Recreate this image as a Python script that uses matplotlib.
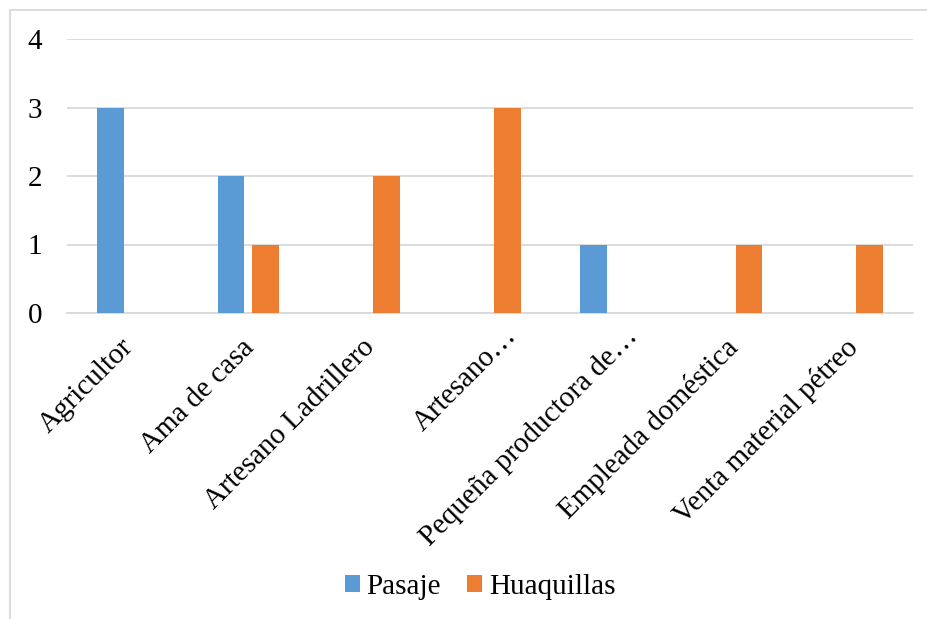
import matplotlib
matplotlib.use("Agg")
import matplotlib.pyplot as plt
import numpy as np
from matplotlib.patches import Rectangle
from matplotlib.transforms import ScaledTranslation

categories = ["Agricultor", "Ama de casa", "Artesano Ladrillero", "Artesano…",
              "Pequeña productora de…", "Empleada doméstica", "Venta material pétreo"]
pasaje = [3, 2, 0, 0, 1, 0, 0]
huaquillas = [0, 1, 2, 3, 0, 1, 1]
yticks = [0, 1, 2, 3, 4]

plt.rcParams['font.family'] = ['Liberation Serif', 'DejaVu Serif']

W, H = 928, 619
fig = plt.figure(figsize=(W / 100, H / 100), dpi=100)
ax = fig.add_axes([67 / W, 1 - 313 / H, (913 - 67) / W, (313 - 39) / H])

x = np.arange(len(categories))
bw = 0.223
off = 0.143
blue = "#5B9BD5"
orange = "#ED7D31"
ax.bar(x - off, pasaje, bw, color=blue, label="Pasaje", zorder=3)
ax.bar(x + off, huaquillas, bw, color=orange, label="Huaquillas", zorder=3)

ax.set_xlim(-0.5, len(categories) - 0.5)
ax.set_ylim(0, 4)
ax.set_yticks(yticks)
ax.yaxis.grid(True, color="#D9D9D9", lw=1.3, zorder=0)
ax.set_axisbelow(True)
for s in ["top", "right", "left"]:
    ax.spines[s].set_visible(False)
ax.spines["bottom"].set_color("#D9D9D9")
ax.spines["bottom"].set_linewidth(1.3)
ax.tick_params(axis="both", length=0, labelsize=21)
ax.tick_params(axis="y", pad=18)
ax.set_xticks(x)
ax.set_xticklabels([])

# rotated category labels; truncated names sit a little further along the diagonal
for i, name in enumerate(categories):
    if name.endswith("…"):
        dx, dy = 16.5, -14
    else:
        dx, dy = 1.5, -22
    tr = ax.get_xaxis_transform() + ScaledTranslation(dx / 72, dy / 72, fig.dpi_scale_trans)
    ax.text(i, 0, name, transform=tr, rotation=45, rotation_mode="anchor",
            ha="right", va="center", fontsize=21)

# light frame around the chart
fig.patches.append(Rectangle((10 / W, -0.1), 1.2, 1.1 - 10 / H, transform=fig.transFigure,
                             fill=False, edgecolor="#D9D9D9", lw=1.3))

fig.legend(loc="center", bbox_to_anchor=(480 / W, 1 - 587 / H), ncol=2, frameon=False,
           fontsize=21, handlelength=0.51, handleheight=0.51, handletextpad=0.24,
           columnspacing=0.89)

fig.savefig("out.png", dpi=100)
